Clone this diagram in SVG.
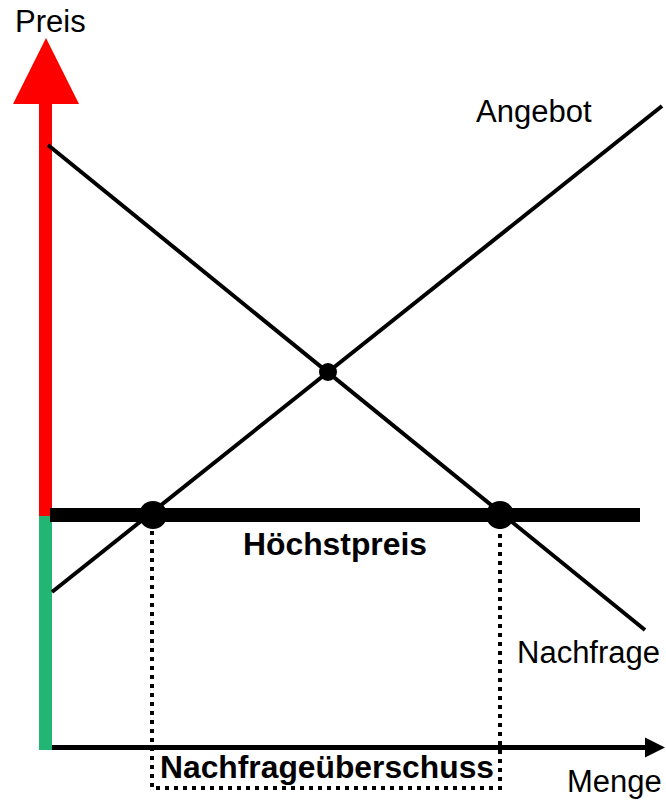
<svg xmlns="http://www.w3.org/2000/svg" width="666" height="801" viewBox="0 0 666 801">
<style>
.lbl{font-family:"Liberation Sans",Arial,sans-serif;font-size:31px;fill:#000}
.bold{font-weight:bold}
.curve{stroke:#000;stroke-width:4;fill:none}
.dot{stroke:#000;stroke-width:4;stroke-dasharray:4 5;fill:none}
</style>
<rect width="666" height="801" fill="#fff"/>
<g id="axis-price">
<rect x="39" y="102" width="13" height="414" fill="#ff0000"/>
<rect x="39" y="516" width="13" height="234" fill="#22b573"/>
<polygon points="46,38 79,104 13,104" fill="#ff0000"/>
<text class="lbl" x="15" y="32">Preis</text>
</g>
<g id="axis-quantity">
<line x1="52" y1="747.5" x2="648" y2="747.5" stroke="#000" stroke-width="5"/>
<polygon points="665,747.5 645,737.5 645,757.5" fill="#000"/>
<text class="lbl" x="567" y="792">Menge</text>
</g>
<g id="connectors">
<line class="curve" x1="48" y1="145" x2="645" y2="630"/>
<line class="curve" x1="52" y1="592" x2="662" y2="106"/>
<line x1="50" y1="515" x2="640" y2="515" stroke="#000" stroke-width="14"/>
<polyline class="dot" points="152,522 152,788 500,788 500,522"/>
</g>
<g id="angebot"><text class="lbl" x="476" y="122">Angebot</text></g>
<g id="nachfrage"><text class="lbl" x="517" y="663">Nachfrage</text></g>
<g id="gleichgewicht"><circle cx="328" cy="372" r="9" fill="#000"/></g>
<g id="hoechstpreis">
<circle cx="153" cy="515" r="14" fill="#000"/>
<circle cx="500" cy="515" r="14" fill="#000"/>
<text class="lbl bold" x="243" y="555" textLength="184" lengthAdjust="spacingAndGlyphs">Höchstpreis</text>
</g>
<g id="ueberschuss"><text class="lbl bold" x="160" y="778" textLength="334" lengthAdjust="spacingAndGlyphs">Nachfrageüberschuss</text></g>
</svg>
